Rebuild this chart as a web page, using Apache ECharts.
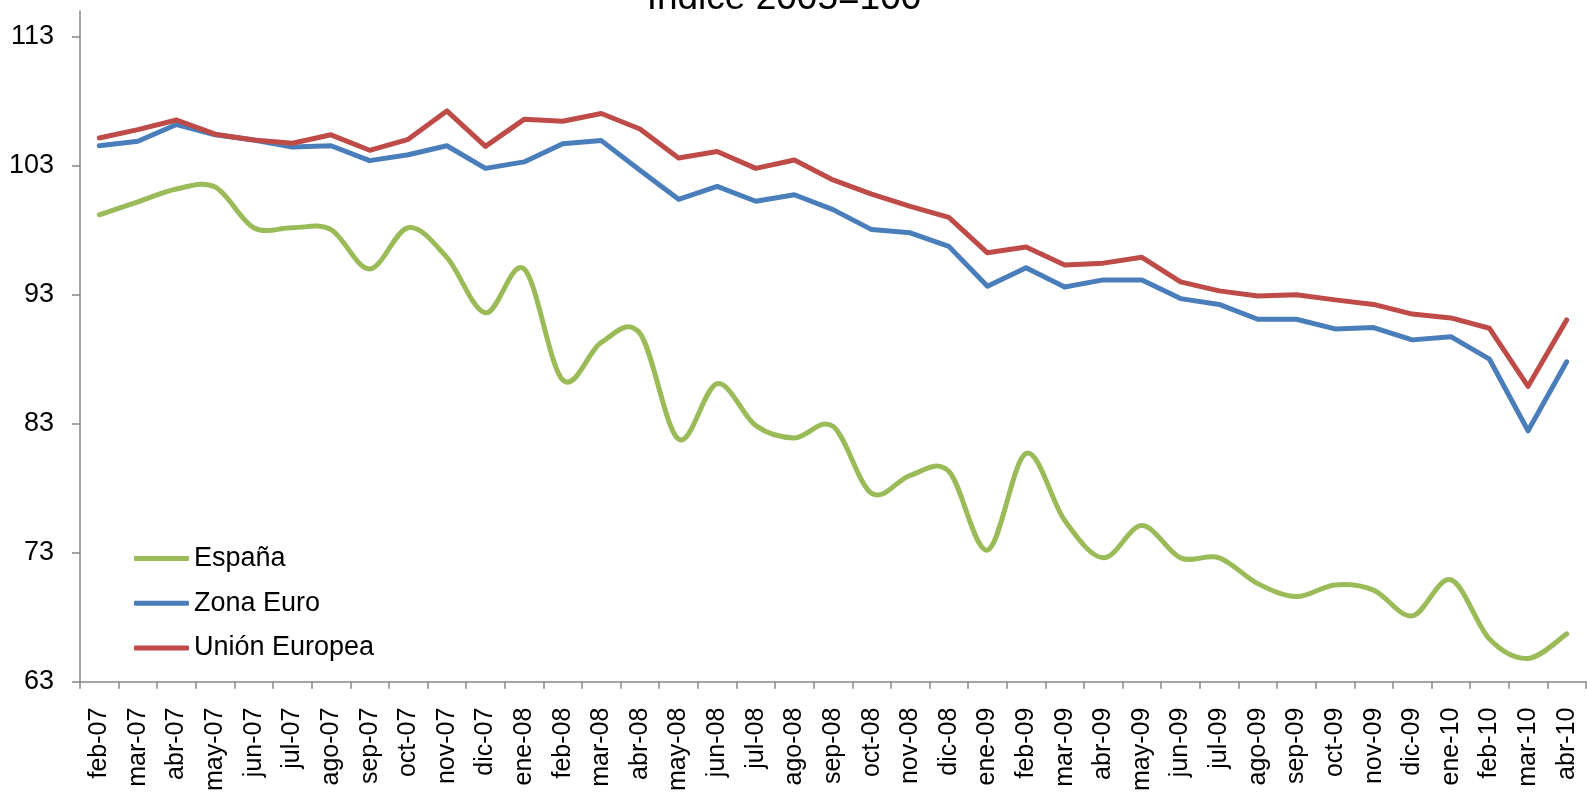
<!DOCTYPE html>
<html>
<head>
<meta charset="utf-8">
<script src="https://cdn.jsdelivr.net/npm/echarts@6/dist/echarts.min.js"></script>
<style>
html,body{margin:0;padding:0;background:#fff;}
#chart{width:1587px;height:794px;}
</style>
</head>
<body>
<div id="chart"></div>
<script>
const titleText = 'Índice 2005=100';
const categories = ['feb-07','mar-07','abr-07','may-07','jun-07','jul-07','ago-07','sep-07','oct-07','nov-07','dic-07',
  'ene-08','feb-08','mar-08','abr-08','may-08','jun-08','jul-08','ago-08','sep-08','oct-08','nov-08','dic-08',
  'ene-09','feb-09','mar-09','abr-09','may-09','jun-09','jul-09','ago-09','sep-09','oct-09','nov-09','dic-09',
  'ene-10','feb-10','mar-10','abr-10'];
const espana = [99.2,100.2,101.2,101.35,98.2,98.2,98.05,95.0,98.2,95.9,91.6,
  95.0,86.4,89.3,90.0,81.8,86.1,82.85,81.9,82.8,77.6,79.0,79.3,
  73.2,80.7,75.5,72.6,75.1,72.6,72.6,70.6,69.6,70.5,70.1,68.1,
  70.9,66.3,64.8,66.7];
const zonaEuro = [104.55,104.9,106.2,105.4,105.0,104.45,104.55,103.4,103.85,104.55,102.8,
  103.3,104.7,104.95,102.65,100.4,101.4,100.25,100.75,99.6,98.05,97.8,96.75,
  93.65,95.1,93.6,94.15,94.15,92.7,92.25,91.1,91.1,90.35,90.45,89.5,
  89.75,88.0,82.45,87.8];
const unionEuropea = [105.15,105.8,106.55,105.45,105.0,104.75,105.4,104.2,105.05,107.25,104.5,
  106.6,106.45,107.05,105.85,103.6,104.1,102.8,103.45,101.9,100.8,99.85,99.0,
  96.25,96.7,95.3,95.45,95.9,94.0,93.3,92.9,93.0,92.6,92.25,91.5,
  91.2,90.4,85.9,91.05];
const yTicks = [63,73,83,93,103,113];
const seriesNames = ['España','Zona Euro','Unión Europea'];
const colors = ['#9BBB59','#4A7EBB','#BE4B48'];

const chart = echarts.init(document.getElementById('chart'), null, {renderer:'canvas'});
const axisGray = '#868686';
const font = 'Liberation Sans, Arial, sans-serif';
const LW = 5;

// Excel-like smoothed line (Catmull-Rom through the data points), positioned via the chart's own axes
function renderSmooth(params, api) {
  if (params.dataIndex !== 0) return null;
  const pts = espana.map((v, i) => api.coord([i, v]));
  const n = pts.length;
  let d = 'M' + pts[0][0] + ' ' + pts[0][1];
  const k = 1 / 6;
  for (let i = 0; i < n - 1; i++) {
    const p0 = pts[Math.max(i - 1, 0)], p1 = pts[i], p2 = pts[i + 1], p3 = pts[Math.min(i + 2, n - 1)];
    const c1x = p1[0] + (p2[0] - p0[0]) * k, c1y = p1[1] + (p2[1] - p0[1]) * k;
    const c2x = p2[0] - (p3[0] - p1[0]) * k, c2y = p2[1] - (p3[1] - p1[1]) * k;
    d += ' C' + c1x + ' ' + c1y + ' ' + c2x + ' ' + c2y + ' ' + p2[0] + ' ' + p2[1];
  }
  return {
    type:'path',
    shape:{pathData:d},
    style:{stroke:colors[0], fill:'none', lineWidth:LW, lineCap:'round', lineJoin:'round'}
  };
}

chart.setOption({
  animation:false,
  backgroundColor:'#ffffff',
  title:{
    text:titleText, left:784, top:-20, padding:0, textAlign:'center',
    textStyle:{fontFamily:font, fontSize:37, fontWeight:'normal', color:'#000'}
  },
  legend:{
    orient:'vertical', left:134, top:545, padding:0,
    icon:'roundRect',
    itemWidth:55, itemHeight:5, itemGap:17.7,
    data:seriesNames,
    textStyle:{fontFamily:font, fontSize:27, color:'#000', lineHeight:27}
  },
  grid:{left:80, right:1, top:11, bottom:110, containLabel:false},
  xAxis:{
    type:'category', data:categories, boundaryGap:true,
    axisLine:{lineStyle:{color:axisGray, width:1.5}},
    axisTick:{show:true, alignWithLabel:false, length:7, lineStyle:{color:axisGray, width:1.5}},
    axisLabel:{rotate:90, interval:0, margin:26, color:'#000', fontFamily:font, fontSize:25},
    splitLine:{show:false}
  },
  yAxis:{
    type:'value', min:63, max:115, interval:10,
    axisLine:{show:true, lineStyle:{color:axisGray, width:1.5}},
    axisTick:{show:true, length:8, customValues:yTicks, lineStyle:{color:axisGray, width:1.5}},
    axisLabel:{margin:26, color:'#000', fontFamily:font, fontSize:27, customValues:yTicks},
    splitLine:{show:false}
  },
  series:[
    {name:seriesNames[0], type:'custom', renderItem:renderSmooth,
     data:espana.map((v, i) => [i, v]), encode:{x:0, y:1},
     itemStyle:{color:colors[0]}, color:colors[0]},
    {name:seriesNames[1], type:'line', data:zonaEuro, smooth:false, symbol:'none',
     color:colors[1], lineStyle:{color:colors[1], width:LW, cap:'round', join:'round'}},
    {name:seriesNames[2], type:'line', data:unionEuropea, smooth:false, symbol:'none',
     color:colors[2], lineStyle:{color:colors[2], width:LW, cap:'round', join:'round'}}
  ]
});
</script>
</body>
</html>
